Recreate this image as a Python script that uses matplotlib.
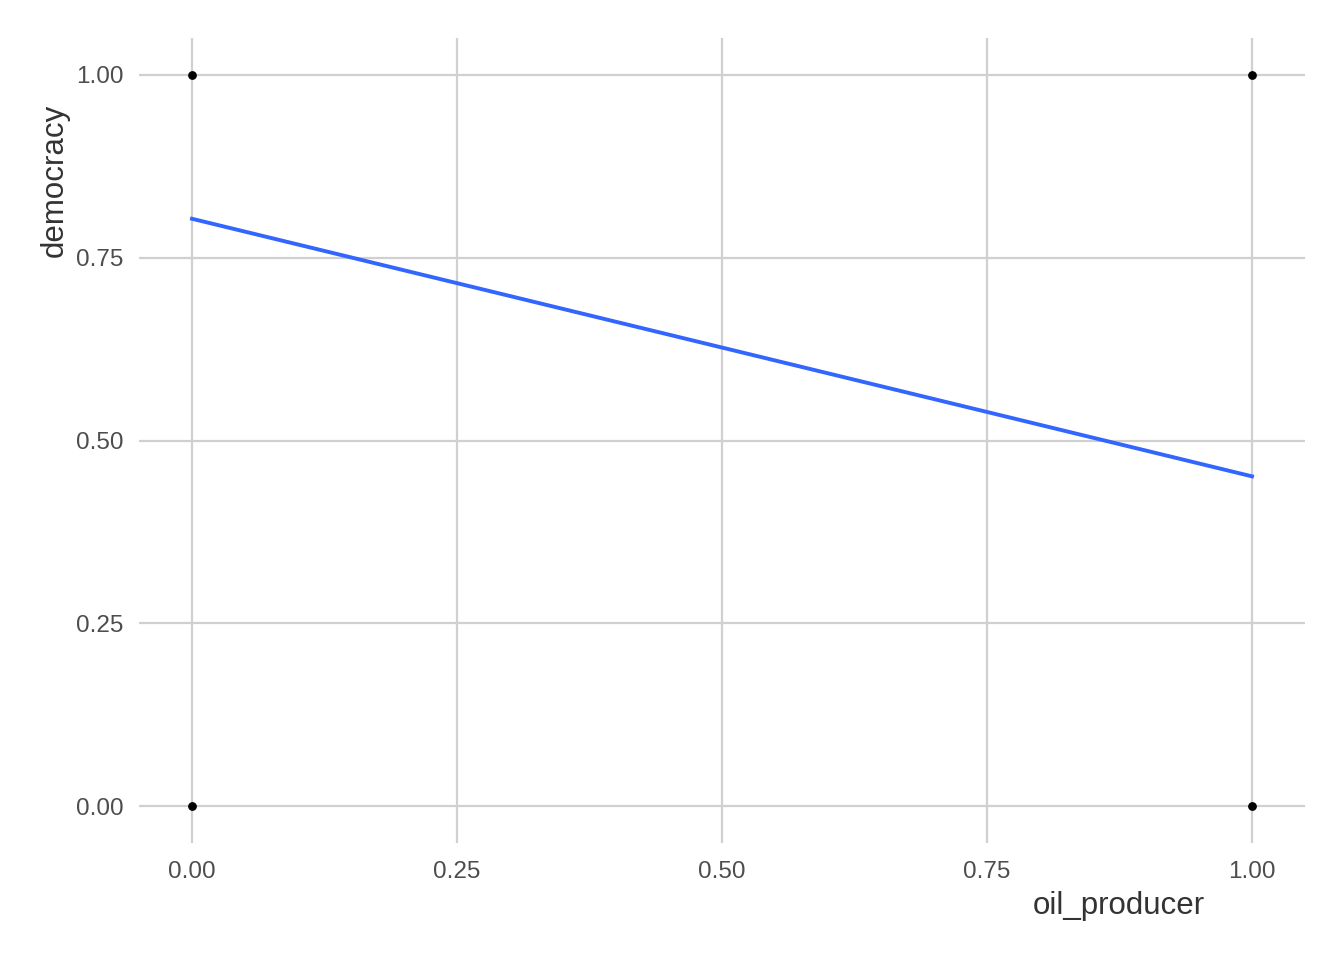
import matplotlib
matplotlib.use("Agg")
import matplotlib.pyplot as plt

oil_producer = [0, 0, 1, 1]
democracy = [0, 1, 0, 1]
fit_x = [0.0, 1.0]
fit_y = [0.803, 0.451]
x_ticks = [0.0, 0.25, 0.5, 0.75, 1.0]
y_ticks = [0.0, 0.25, 0.5, 0.75, 1.0]
tick_labels = ["0.00", "0.25", "0.50", "0.75", "1.00"]

plt.rcParams['font.family'] = ['Liberation Sans', 'DejaVu Sans']

fig = plt.figure(figsize=(13.44, 9.6), dpi=100)
ax = fig.add_axes([139/1344, 1-843/960, (1305-139)/1344, (843-38)/960])
ax.set_xlim(-0.05, 1.05)
ax.set_ylim(-0.05, 1.05)
ax.set_xticks(x_ticks)
ax.set_yticks(y_ticks)
ax.set_xticklabels(tick_labels)
ax.set_yticklabels(tick_labels)
ax.grid(True, color='#d0d0d0', linewidth=1.6)
ax.set_axisbelow(True)
for s in ax.spines.values():
    s.set_visible(False)
ax.tick_params(axis='y', length=0, labelsize=17.5, labelcolor='#4d4d4d', pad=11)
ax.tick_params(axis='x', length=0, labelsize=17.5, labelcolor='#4d4d4d', pad=13)

ax.plot(fit_x, fit_y, color='#3366FF', linewidth=2.8, zorder=3)
ax.scatter(oil_producer, democracy, s=28, color='black', zorder=4)

fig.text(1205/1344, 1-906/960, "oil_producer", ha='right', va='center',
         fontsize=22.5, color='#333333')
fig.text(55/1344, 1-104/960, "democracy", ha='center', va='top',
         rotation=90, fontsize=22.5, color='#333333')

fig.savefig("out.png", dpi=100, facecolor='white')
